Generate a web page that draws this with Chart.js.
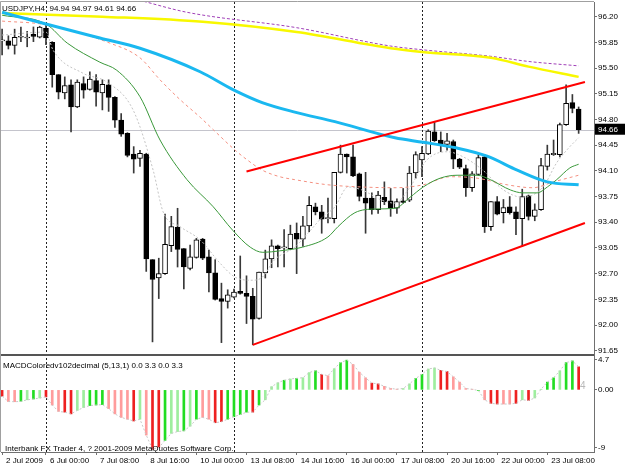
<!DOCTYPE html>
<html lang="en">
<head>
<meta charset="UTF-8">
<title>USDJPY,H4</title>
<style>
  html, body { margin: 0; padding: 0; background: #fff; }
  #chart { display: block; }
</style>
</head>
<body>
<canvas id="chart" width="625" height="469"></canvas>
<script src="https://cdn.jsdelivr.net/npm/chart.js@4.4.0/dist/chart.umd.min.js"></script>
<script>
// --- H4 candles, one entry per bar (bar 0 = 2 Jul 2009 16:00) ---
const opens = [95.87,95.87,95.81,95.92,95.91,95.96,95.92,96.04,95.85,95.41,
  95.16,95.27,94.97,95.29,95.21,95.33,95.16,95.27,95.10,94.79,
  94.61,94.33,94.27,94.33,92.89,92.64,92.70,93.08,93.33,93.04,
  92.77,92.92,93.17,92.93,92.71,92.36,92.32,92.38,92.46,92.43,
  92.39,92.09,92.71,92.90,93.08,93.05,93.04,93.25,93.17,93.35,
  93.61,93.54,93.45,93.45,94.08,94.33,94.29,94.06,93.73,93.73,
  93.57,93.74,93.69,93.59,93.69,93.70,94.07,94.25,94.33,94.63,
  94.52,94.46,94.50,94.26,94.13,93.87,94.05,94.29,93.34,93.68,
  93.53,93.61,93.54,93.45,93.76,93.48,93.57,94.16,94.32,94.32,
  94.73,95.03,94.94];
const highs = [96.03,95.94,96.03,96.06,96.00,96.06,96.07,96.10,95.86,95.41,
  95.38,95.34,95.34,95.38,95.45,95.41,95.34,95.34,95.11,94.88,
  94.62,94.43,94.38,94.34,92.89,92.91,93.51,93.48,93.59,93.04,
  93.09,93.18,93.18,93.02,92.89,92.57,92.48,92.49,92.94,92.67,
  92.50,92.72,93.02,93.16,93.09,93.30,93.36,93.39,93.48,93.75,
  93.66,93.63,93.73,94.08,94.45,94.33,94.45,94.07,94.08,93.80,
  93.82,93.95,93.86,93.72,93.86,94.16,94.36,94.43,94.66,94.77,
  94.63,94.61,94.52,94.27,94.18,94.09,94.32,94.32,93.68,93.75,
  93.71,93.75,93.61,93.85,93.77,93.65,94.27,94.45,94.52,94.75,
  95.27,95.14,94.97];
const lows = [95.68,95.76,95.69,95.86,95.79,95.86,95.91,95.82,95.24,95.08,
  95.08,94.63,94.96,95.09,95.20,94.98,94.93,94.91,94.69,94.57,
  94.29,94.07,94.16,92.73,91.77,92.36,92.69,93.00,92.79,92.49,
  92.75,92.91,92.89,92.45,92.34,91.76,92.23,92.37,92.42,92.02,
  91.73,92.08,92.64,92.78,92.79,92.79,93.03,92.70,93.07,93.27,
  93.50,93.25,93.39,93.39,94.07,94.07,94.02,93.69,93.25,93.51,
  93.52,93.64,93.48,93.52,93.66,93.68,94.00,94.02,94.32,94.50,
  94.36,94.38,94.13,94.13,93.75,93.82,94.04,93.26,93.29,93.50,
  93.39,93.51,93.23,93.07,93.43,93.42,93.56,94.11,94.31,94.29,
  94.72,94.89,94.61];
const closes = [95.88,95.81,95.92,95.93,95.92,95.93,96.06,95.91,95.41,95.17,
  95.26,94.97,95.31,95.20,95.35,95.17,95.28,95.10,94.79,94.60,
  94.31,94.26,94.34,92.90,92.62,92.70,93.10,93.34,93.03,92.79,
  92.93,93.16,92.91,92.71,92.35,92.32,92.41,92.45,92.43,92.39,
  92.08,92.72,92.90,93.08,93.04,93.06,93.24,93.17,93.35,93.63,
  93.54,93.44,93.46,94.08,94.33,94.29,94.03,93.75,93.66,93.57,
  93.77,93.68,93.59,93.68,93.67,94.07,94.32,94.34,94.64,94.51,
  94.47,94.51,94.26,94.15,93.87,94.06,94.28,93.34,93.68,93.51,
  93.60,93.53,93.45,93.75,93.48,93.57,94.17,94.33,94.34,94.73,
  95.02,94.95,94.66];

// --- moving averages, sampled along the bars ---
const yellowBars = [0, 16, 32, 47, 62, 67, 78, 84, 92];
const yellowVals = [96.25, 96.20, 96.13, 95.99, 95.77, 95.72, 95.64, 95.52, 95.38];
const purpleBars = [18, 23, 29.5, 47, 62, 67, 78, 84, 92];
const purpleVals = [96.52, 96.40, 96.26, 96.05, 95.80, 95.75, 95.66, 95.59, 95.53];
const blueBars = [0, 7, 15.6, 22, 31.6, 37, 41.5, 46.7, 53.1, 62.7, 67.2, 72.6, 77.4, 82.2, 87, 92];
const blueVals = [96.26, 96.10, 95.91, 95.77, 95.45, 95.20, 95.03, 94.90, 94.77, 94.55, 94.49, 94.41, 94.30, 94.11, 93.95, 93.91];
const greenBars = [0, 7, 10.4, 15.6, 18.3, 22, 25.2, 29.5, 33.7, 36.8, 39.6, 41.6, 44.3, 47.9, 52, 53.6,
  56.3, 59.5, 62.7, 65.1, 67.2, 69.9, 72.6, 75.8, 77.9, 81.1, 83.1, 85.4, 87, 88.5, 90.6, 92];
const greenVals = [96.22, 96.10, 95.84, 95.58, 95.47, 95.11, 94.52, 93.98, 93.61, 93.29, 93.06, 92.99, 93.01, 93.06, 93.20, 93.34,
  93.53, 93.58, 93.59, 93.74, 93.88, 94.00, 94.04, 94.04, 93.98, 93.84, 93.80, 93.80, 93.88, 93.98, 94.14, 94.19];
const salmonBars = [0, 7, 17.2, 22, 25.2, 28.4, 31.6, 33.7, 37.2, 39.1, 41.5, 44.3, 46.7, 52, 57.4, 62.7,
  67.2, 71.5, 75.8, 80.6, 84.7, 88, 92];
const salmonVals = [96.14, 96.09, 95.84, 95.64, 95.34, 95.07, 94.83, 94.66, 94.38, 94.25, 94.11, 94.02, 93.98, 93.91, 93.88, 93.87,
  93.91, 94.02, 94.00, 93.91, 93.87, 93.95, 94.04];
const grayBars = [0, 7, 8.1, 12.9, 16.7, 20.9, 24.1, 25.7, 28.4, 31.6, 34.8, 37.2, 39.9, 41.5, 43.5, 46.7, 48.8,
  51, 53.1, 55.2, 57.4, 60.6, 62.7, 65.1, 67.8, 71, 73.6, 76.7, 80, 83.1, 86.3, 88.5, 90.6, 92];
const grayVals = [95.95, 95.99, 95.75, 95.43, 95.31, 94.93, 94.11, 93.54, 93.34, 93.16, 92.84, 92.65, 92.61, 92.65, 92.89, 93.06, 93.25,
  93.46, 93.61, 93.88, 93.84, 93.70, 93.66, 93.88, 94.25, 94.36, 94.29, 94.11, 93.84, 93.74, 93.88, 94.21, 94.43, 94.55];

// --- channel trend lines ---
const upperBars = [39, 93];
const upperVals = [94.09, 95.31];
const lowerBars = [40, 93];
const lowerVals = [91.73, 93.39];

// --- MACD histogram (5,13,1) ---
const macdVals = [-0.99,-1.82,-1.85,-1.80,-1.55,-1.43,-1.27,-1.10,-2.37,-3.37,
  -3.48,-3.75,-3.20,-2.76,-2.45,-2.37,-2.30,-2.92,-3.75,-4.30,
  -4.58,-4.86,-4.58,-7.06,-9.27,-9.00,-7.89,-6.79,-6.51,-6.40,
  -5.68,-4.58,-4.30,-4.58,-5.13,-4.97,-4.58,-4.19,-3.86,-3.48,
  -3.48,-2.37,-1.55,0.50,1.10,1.50,1.70,1.80,1.90,2.70,
  3.00,2.43,2.21,3.31,4.25,4.64,3.97,2.76,1.88,1.05,
  0.94,0.55,0.22,0.11,0.22,0.94,1.77,2.43,3.26,3.42,
  3.04,2.87,2.04,1.21,0.22,0.10,-0.10,-1.55,-2.10,-2.21,
  -2.21,-2.21,-2.10,-1.55,-1.66,-1.27,0.10,1.21,1.88,2.98,
  4.25,4.53,3.60];
// G = up, g = up (light), R = down, r = down (light)
const macdTone = ['R','r','r','G','g','G','g','R','r','r',
  'R','R','g','g','G','G','G','r','r','r',
  'r','R','g','r','R','R','G','g','g','G',
  'g','G','r','r','R','R','G','G','G','G',
  'R','G','g','g','g','G','g','G','g','g',
  'G','R','r','g','G','G','r','r','r','R',
  'R','r','r','r','g','g','G','G','g','g',
  'R','R','r','r','r','r','G','r','R','R',
  'r','r','R','g','R','g','g','G','G','g',
  'G','G','R'];

// --- axes ---
const priceTicks = [96.20, 95.85, 95.50, 95.15, 94.80, 94.45, 94.10, 93.75, 93.40, 93.05, 92.70, 92.35, 92.00, 91.65];
const macdTicks = [4.7, 0, -9];
const timeBars = [0, 7, 15, 23, 31, 39, 47, 55, 63, 71, 79, 87];
const timeLabels = ['2 Jul 2009', '6 Jul 00:00', '7 Jul 08:00', '8 Jul 16:00', '10 Jul 00:00', '13 Jul 08:00',
  '14 Jul 16:00', '16 Jul 00:00', '17 Jul 08:00', '20 Jul 16:00', '22 Jul 00:00', '23 Jul 08:00'];
const weekStarts = [7, 37, 67];

const last = closes.length - 1;
const bidPrice = closes[last];
const toneColors = { G: '#22dd22', g: '#9eee9e', R: '#ee2020', r: '#ff9c9c' };
const axisFont = { family: '"Liberation Sans Narrow", "Liberation Sans", Arial, sans-serif', size: 8 };

function pts(bars, vals) {
    return bars.map((b, k) => ({ x: b, y: vals[k] }));
}

function maLine(bars, vals, color, width, dash, order) {
    return {
        type: 'line', data: pts(bars, vals), yAxisID: 'y',
        borderColor: color, borderWidth: width, borderDash: dash,
        pointRadius: 0, cubicInterpolationMode: 'monotone', order: order
    };
}

const datasets = [
    // trend lines (top)
    { type: 'line', data: pts(upperBars, upperVals), yAxisID: 'y', borderColor: '#ff0000', borderWidth: 2, pointRadius: 0, order: 1 },
    { type: 'line', data: pts(lowerBars, lowerVals), yAxisID: 'y', borderColor: '#ff0000', borderWidth: 2, pointRadius: 0, order: 1 },
    maLine(blueBars, blueVals, '#1ab8f0', 3, [], 2),
    maLine(yellowBars, yellowVals, '#f8f800', 2.5, [], 3),
    maLine(purpleBars, purpleVals, '#a040b8', 1, [3, 2], 3),
    maLine(greenBars, greenVals, '#3a983a', 1, [], 4),
    maLine(salmonBars, salmonVals, '#f49080', 1, [3, 3], 4),
    maLine(grayBars, grayVals, '#c4c4c4', 1, [2, 2], 4),
    // candle bodies
    {
        type: 'bar', yAxisID: 'y', grouped: false, order: 6,
        data: opens.map((o, i) => ({ x: i, y: [o, closes[i]] })),
        barThickness: 5, minBarLength: 1, borderSkipped: false, borderWidth: 1,
        borderColor: '#000',
        backgroundColor: c => closes[c.dataIndex] >= opens[c.dataIndex] ? '#ffffff' : '#000000'
    },
    // candle wicks
    {
        type: 'bar', yAxisID: 'y', grouped: false, order: 7,
        data: lows.map((l, i) => ({ x: i, y: [l, highs[i]] })),
        barThickness: 1, backgroundColor: '#383838', borderWidth: 0
    },
    // MACD
    {
        type: 'line', yAxisID: 'y2', order: 8,
        data: macdVals.map((v, i) => ({ x: i, y: v })),
        borderColor: '#c8c8c8', borderWidth: 1, borderDash: [2, 2], pointRadius: 0
    },
    {
        type: 'bar', yAxisID: 'y2', grouped: false, order: 9,
        data: macdVals.map((v, i) => ({ x: i, y: v })),
        barThickness: 2, borderWidth: 0,
        backgroundColor: c => toneColors[macdTone[c.dataIndex]]
    }
];

const mtDecor = {
    id: 'mtDecor',
    beforeDatasetsDraw(chart) {
        const { ctx, chartArea: a, scales: { x, y } } = chart;
        ctx.save();
        // bid line
        const py = Math.round(y.getPixelForValue(bidPrice)) + 0.5;
        ctx.strokeStyle = '#c4c4cc';
        ctx.lineWidth = 1;
        ctx.beginPath(); ctx.moveTo(a.left, py); ctx.lineTo(a.right, py); ctx.stroke();
        // week separators
        ctx.strokeStyle = '#222';
        ctx.setLineDash([2, 2]);
        weekStarts.forEach(b => {
            const px = Math.round(x.getPixelForValue(b)) + 0.5;
            ctx.beginPath(); ctx.moveTo(px, a.top); ctx.lineTo(px, a.bottom); ctx.stroke();
        });
        ctx.restore();
    },
    afterDraw(chart) {
        const { ctx, chartArea: a, scales: { y } } = chart;
        ctx.save();
        // frame + panel separator
        ctx.strokeStyle = '#a0a0a0';
        ctx.lineWidth = 1;
        ctx.beginPath(); ctx.moveTo(a.left - 0.5, a.bottom); ctx.lineTo(a.left - 0.5, a.top - 0.5); ctx.lineTo(a.right, a.top - 0.5); ctx.stroke();
        ctx.strokeStyle = '#555';
        ctx.lineWidth = 2;
        ctx.beginPath(); ctx.moveTo(a.left, y.bottom + 1); ctx.lineTo(a.right, y.bottom + 1); ctx.stroke();

        // texts
        ctx.fillStyle = '#000';
        ctx.font = '8px "Liberation Sans", Arial, sans-serif';
        ctx.textBaseline = 'alphabetic';
        ctx.textAlign = 'left';
        const f = v => v.toFixed(2);
        ctx.fillText('USDJPY,H4  ' + [opens[last], highs[last], lows[last], closes[last]].map(f).join(' '), 2, 11);
        ctx.fillText('MACDColoredv102decimal (5,13,1) 0.0 3.3 0.0 3.3', 3, 368);
        ctx.fillText('Interbank FX Trader 4, ? 2001-2009 MetaQuotes Software Corp.', 5, 451);
        ctx.fillStyle = '#b8b8b8';
        ctx.font = '10px "Liberation Sans", Arial, sans-serif';
        ctx.fillText('4', 580, 389);

        // bid price box
        const py = y.getPixelForValue(bidPrice);
        ctx.fillStyle = '#000';
        ctx.fillRect(a.right + 1, py - 6, 31, 11);
        ctx.fillStyle = '#fff';
        ctx.font = '8px ' + axisFont.family;
        ctx.textBaseline = 'middle';
        ctx.fillText(f(bidPrice), a.right + 4, py);
        ctx.restore();
    }
};

const axisGrid = { display: true, drawOnChartArea: false, tickLength: 3, color: '#707070' };

new Chart(document.getElementById('chart'), {
    type: 'bar',
    data: { datasets },
    options: {
        responsive: false,
        animation: false,
        events: [],
        layout: { padding: { left: 1, top: 2, right: 0, bottom: 0 } },
        plugins: { legend: { display: false }, tooltip: { enabled: false } },
        scales: {
            x: {
                type: 'linear', min: -0.176, max: 94.45, offset: false,
                afterBuildTicks: s => { s.ticks = timeBars.map(v => ({ value: v })); },
                afterFit: s => { s.height = 17; s.paddingLeft = 0; s.paddingRight = 0; },
                ticks: {
                    callback: (v, k) => timeLabels[k], align: 'start', labelOffset: 4,
                    maxRotation: 0, minRotation: 0, autoSkip: false, padding: 1,
                    font: axisFont, color: '#000'
                },
                grid: Object.assign({ offset: false }, axisGrid),
                border: { color: '#707070' }
            },
            y: {
                type: 'linear', position: 'right', stack: 'panes', stackWeight: 352,
                min: 91.605, max: 96.40,
                afterBuildTicks: s => { s.ticks = priceTicks.map(v => ({ value: v })); },
                afterFit: s => { s.width = 31; s.paddingTop = 0; s.paddingBottom = 0; },
                ticks: { callback: v => v.toFixed(2), padding: 1, font: axisFont, color: '#000' },
                grid: axisGrid,
                border: { color: '#707070' }
            },
            y2: {
                type: 'linear', position: 'right', stack: 'panes', stackWeight: 98,
                min: -9.7, max: 5.6,
                afterBuildTicks: s => { s.ticks = macdTicks.map(v => ({ value: v })); },
                afterFit: s => { s.width = 31; s.paddingTop = 0; s.paddingBottom = 0; },
                ticks: { callback: v => v === 0 ? '0.00' : String(v), padding: 1, font: axisFont, color: '#000' },
                grid: axisGrid,
                border: { color: '#707070' }
            }
        }
    },
    plugins: [mtDecor]
});
</script>
</body>
</html>
